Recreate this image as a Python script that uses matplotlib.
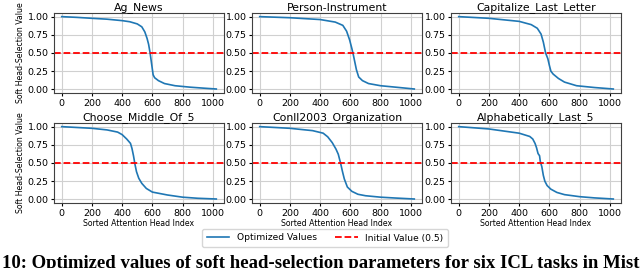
import matplotlib
matplotlib.use("Agg")
import matplotlib.pyplot as plt

titles = ["Ag_News", "Person-Instrument", "Capitalize_Last_Letter",
          "Choose_Middle_Of_5", "Conll2003_Organization", "Alphabetically_Last_5"]

ag_x = [0, 100, 200, 300, 400, 450, 500, 530, 550, 565, 575, 585, 595, 605, 615, 640, 680, 750, 850, 950, 1023]
ag_y = [1.0, 0.99, 0.977, 0.965, 0.945, 0.93, 0.90, 0.86, 0.79, 0.70, 0.62, 0.50, 0.35, 0.20, 0.16, 0.12, 0.08, 0.05, 0.03, 0.015, 0.005]

pi_x = [0, 200, 400, 500, 550, 575, 595, 610, 620, 630, 640, 655, 680, 720, 800, 900, 1023]
pi_y = [1.0, 0.985, 0.96, 0.925, 0.88, 0.80, 0.68, 0.56, 0.47, 0.37, 0.27, 0.17, 0.12, 0.08, 0.05, 0.03, 0.005]

cl_x = [0, 200, 400, 480, 520, 545, 560, 575, 590, 600, 610, 625, 660, 700, 780, 900, 1023]
cl_y = [1.0, 0.977, 0.935, 0.89, 0.84, 0.76, 0.65, 0.50, 0.42, 0.33, 0.25, 0.21, 0.15, 0.10, 0.05, 0.025, 0.005]

cm_x = [0, 200, 300, 370, 400, 430, 455, 465, 475, 485, 495, 510, 530, 560, 600, 700, 800, 900, 1023]
cm_y = [1.0, 0.977, 0.955, 0.925, 0.89, 0.83, 0.77, 0.70, 0.60, 0.48, 0.38, 0.29, 0.22, 0.15, 0.10, 0.06, 0.03, 0.015, 0.005]

co_x = [0, 200, 350, 420, 450, 480, 505, 520, 535, 548, 560, 580, 610, 650, 700, 800, 900, 1023]
co_y = [1.0, 0.977, 0.945, 0.91, 0.86, 0.78, 0.69, 0.62, 0.50, 0.38, 0.28, 0.17, 0.11, 0.07, 0.05, 0.03, 0.018, 0.005]

al_x = [0, 200, 400, 470, 490, 505, 515, 525, 535, 540, 550, 560, 570, 585, 610, 650, 700, 800, 900, 1023]
al_y = [1.0, 0.968, 0.91, 0.865, 0.83, 0.77, 0.71, 0.63, 0.60, 0.52, 0.45, 0.33, 0.25, 0.19, 0.14, 0.095, 0.065, 0.037, 0.02, 0.005]

series = [(ag_x, ag_y), (pi_x, pi_y), (cl_x, cl_y), (cm_x, cm_y), (co_x, co_y), (al_x, al_y)]
initial_value = 0.5
yticks = [0.0, 0.25, 0.5, 0.75, 1.0]
xticks = [0, 200, 400, 600, 800, 1000]

W, H = 640, 268
fig = plt.figure(figsize=(W / 100, H / 100), dpi=100)

lefts = [54, 252, 451]
tops = [13, 123]
aw, ah = 170, 80

axes = []
for i, (xs, ys) in enumerate(series):
    r, c = divmod(i, 3)
    ax = fig.add_axes([lefts[c] / W, 1 - (tops[r] + ah) / H, aw / W, ah / H])
    l1, = ax.plot(xs, ys, color="#1f77b4", lw=1.2, label="Optimized Values")
    l2 = ax.axhline(initial_value, color="red", ls="--", lw=1.3, label="Initial Value (0.5)")
    ax.set_title(titles[i], fontsize=7.8, pad=1.5)
    ax.set_xticks(xticks)
    ax.set_yticks(yticks)
    ax.set_yticklabels([f"{v:.2f}" for v in yticks])
    ax.tick_params(labelsize=6.8, length=2.5, pad=1.5)
    ax.set_xlim(-51, 1074)
    ax.set_ylim(-0.05, 1.05)
    ax.grid(True, color="#d0d0d0", lw=0.8)
    ax.set_axisbelow(True)
    for s in ax.spines.values():
        s.set_color("#404040")
    if c == 0:
        ax.set_ylabel("Soft Head-Selection Value", fontsize=5.6, labelpad=2)
    if r == 1:
        ax.set_xlabel("Sorted Attention Head Index", fontsize=5.6, labelpad=1)
    axes.append(ax)

fig.legend([l1, l2], ["Optimized Values", "Initial Value (0.5)"], loc="center",
           bbox_to_anchor=(325 / W, 1 - 238 / H), ncol=2, fontsize=6.6,
           frameon=True, handlelength=2.5, columnspacing=2.0,
           borderpad=0.5)

fig.text(2 / W, 1 - 255 / H, "10: Optimized values of soft head-selection parameters for six ICL tasks in Mistral-7B",
         family="Liberation Serif", weight="bold", fontsize=13.5, va="top", ha="left")

fig.savefig("out.png", dpi=100)
